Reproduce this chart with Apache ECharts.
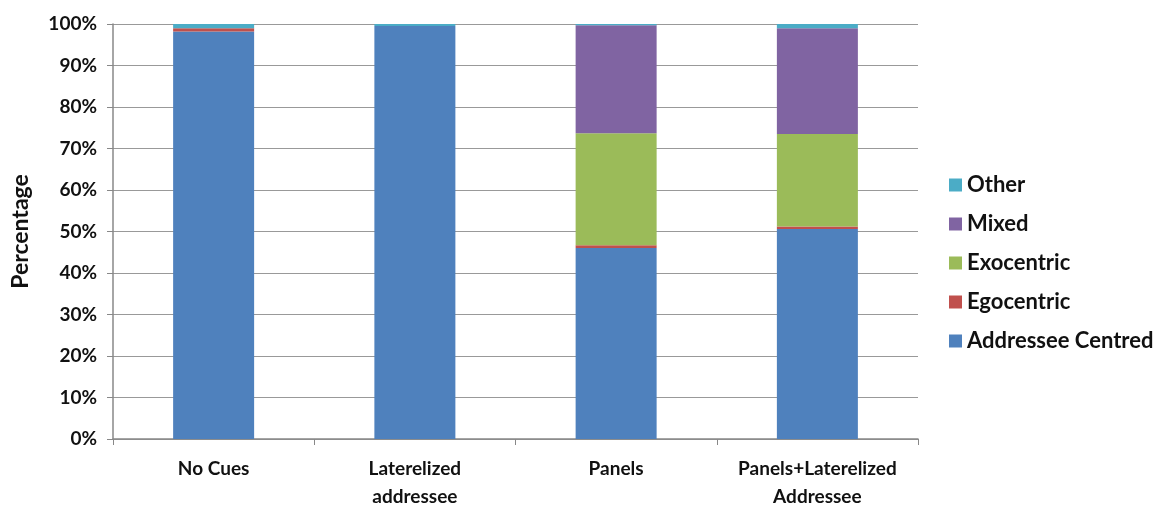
<!DOCTYPE html>
<html><head><meta charset="utf-8">
<script src="https://cdn.jsdelivr.net/npm/echarts@6/dist/echarts.min.js"></script>
<style>html,body{margin:0;padding:0;background:#fff}#c{width:1160px;height:527px}</style>
</head><body><div id="c"></div>
<script>
const categories = ['No Cues', 'Laterelized\naddressee', 'Panels', 'Panels+Laterelized\nAddressee'];
const addresseeCentred = [98.2, 99.5, 46.0, 50.6];
const egocentric = [0.8, 0.0, 0.7, 0.6];
const exocentric = [0.0, 0.0, 27.0, 22.3];
const mixed = [0.0, 0.0, 26.0, 25.5];
const other = [1.0, 0.5, 0.3, 1.0];
const yTicks = [0, 10, 20, 30, 40, 50, 60, 70, 80, 90, 100];

const colors = {
  'Addressee Centred': '#4f81bd',
  'Egocentric': '#c0504d',
  'Exocentric': '#9bbb59',
  'Mixed': '#8064a2',
  'Other': '#4bacc6'
};
const seriesData = [
  ['Addressee Centred', addresseeCentred],
  ['Egocentric', egocentric],
  ['Exocentric', exocentric],
  ['Mixed', mixed],
  ['Other', other]
];
const font = 'Lato, "Open Sans", sans-serif';
const chart = echarts.init(document.getElementById('c'));
chart.setOption({
  animation: false,
  grid: {left: 113, right: 242, top: 24, bottom: 88, outerBoundsMode: 'none', containLabel: false},
  legend: {
    orient: 'vertical', left: 944, top: 169, itemGap: 17,
    itemWidth: 13, itemHeight: 13, icon: 'rect',
    data: ['Other', 'Mixed', 'Exocentric', 'Egocentric', 'Addressee Centred'],
    textStyle: {fontFamily: font, fontWeight: 'bold', fontSize: 22, color: '#111'}
  },
  xAxis: {
    type: 'category', data: categories,
    axisLine: {lineStyle: {color: '#888', width: 1.5}},
    axisTick: {show: true, length: 6, lineStyle: {color: '#888'}},
    axisLabel: {interval: 0, fontFamily: font, fontWeight: 'bold', fontSize: 19, color: '#111', margin: 16, lineHeight: 28}
  },
  yAxis: {
    type: 'value', min: 0, max: 100, interval: 10,
    name: 'Percentage', nameLocation: 'middle', nameGap: 81,
    nameTextStyle: {fontFamily: font, fontWeight: 'bold', fontSize: 23, color: '#111'},
    axisLine: {show: true, lineStyle: {color: '#888', width: 1.5}},
    axisTick: {show: true, length: 6, lineStyle: {color: '#888'}},
    splitLine: {lineStyle: {color: '#999', width: 1.2}},
    axisLabel: {fontFamily: font, fontWeight: 'bold', fontSize: 19, color: '#111', margin: 16,
      formatter: v => yTicks.includes(v) ? v + '%' : ''}
  },
  series: seriesData.map(([name, vals]) => ({
    name, type: 'bar', stack: 'total', data: vals, barWidth: 81,
    itemStyle: {color: colors[name]}
  }))
});
</script></body></html>
